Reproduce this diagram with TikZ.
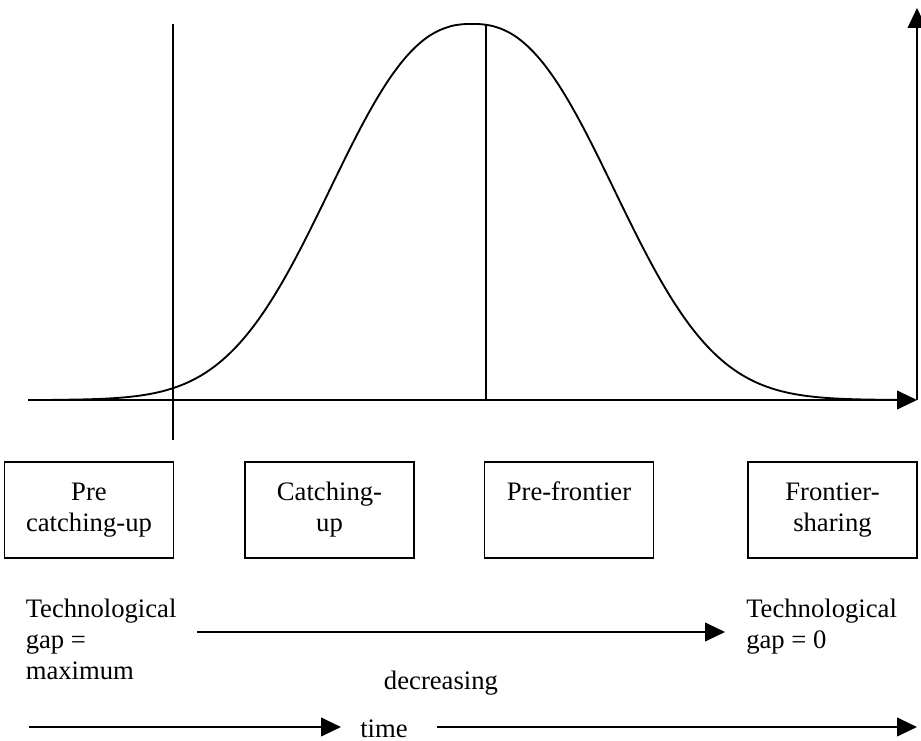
\documentclass[tikz,border=0pt]{standalone}
\usepackage{fontspec}
\setmainfont{Liberation Serif}
\usetikzlibrary{arrows.meta}

\begin{document}
\begin{tikzpicture}[x=0.75pt, y=-0.75pt,
  txt/.style={font=\fontsize{20}{23}\selectfont, inner sep=0pt},
  stagebox/.style={txt, draw, line width=1.2pt, minimum width=126.5pt,
    minimum height=72pt, align=center},
  axisline/.style={line width=1.5pt, -{Triangle[length=15pt, width=14pt]}},
  guide/.style={line width=0.8pt},
  flow/.style={line width=1.5pt, -{Triangle[length=15pt, width=14pt]}}]

  \useasboundingbox (0,0) rectangle (921,741);

  % axes
  \coordinate (O) at (28,400);
  \coordinate (corner) at (917,400);
  \coordinate (ytop) at (917,8);
  \draw[axisline] (O) -- (corner);
  \draw[axisline] (corner) -- (ytop);

  % phase separators
  \coordinate (s1top) at (173,24);
  \coordinate (s1bot) at (173,440);
  \coordinate (s2top) at (486,24);
  \coordinate (s2bot) at (486,400);
  \draw[guide] (s1top) -- (s1bot);
  \draw[guide] (s2top) -- (s2bot);

  % bell-shaped curve
  \draw[line width=1.4pt] plot[domain=52:900, samples=220, smooth]
    (\x, {400-376*exp(-pow((abs(\x-472)+0.01)/178.3, 2.4))});

  % stages
  \node[stagebox] (b1) at (89,510) {\strut Pre\\\strut catching-up};
  \node[stagebox] (b2) at (329.5,510) {\strut Catching-\\\strut up};
  \node[stagebox] (b3) at (569,510) {\strut Pre-frontier\\\strut};
  \node[stagebox] (b4) at (832.5,510) {\strut Frontier-\\\strut sharing};

  % technological gap
  \node[txt, anchor=north west, align=left] (gapmax) at (25.5,596)
    {\strut Technological\\\strut gap =\\\strut maximum};
  \node[txt, anchor=north west, align=left] (gapzero) at (746,596)
    {\strut Technological\\\strut gap = 0};
  \coordinate (g1) at (197,632);
  \coordinate (g2) at (725,632);
  \draw[flow] (g1) -- (g2);
  \node[txt, anchor=base] (decr) at (441,689) {decreasing};

  % time
  \node[txt, anchor=base] (time) at (384,737) {time};
  \coordinate (t1) at (29,727);
  \coordinate (t2) at (341,727);
  \coordinate (t3) at (437,727);
  \coordinate (t4) at (917,727);
  \draw[flow] (t1) -- (t2);
  \draw[flow] (t3) -- (t4);
\end{tikzpicture}
\end{document}
